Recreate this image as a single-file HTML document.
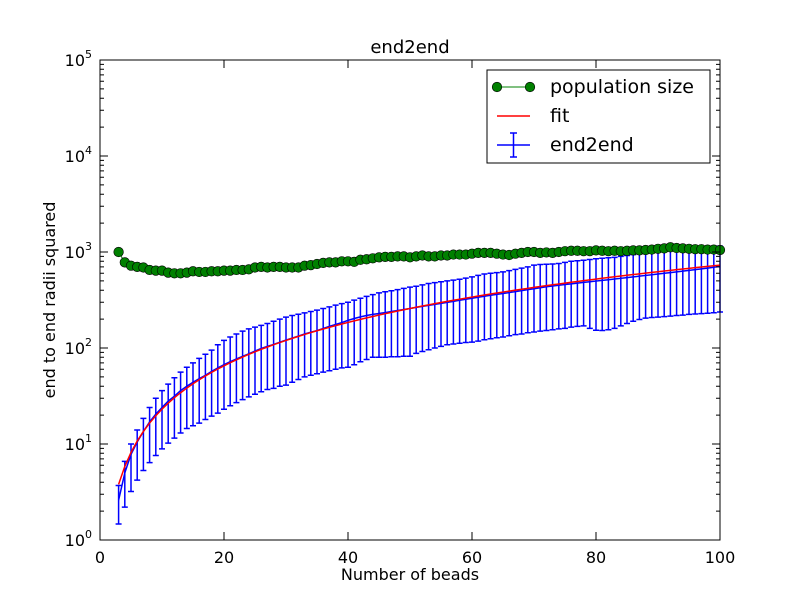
<!DOCTYPE html>
<html><head><meta charset="utf-8"><style>
body{margin:0;background:#fff;}
svg{display:block;font-family:"DejaVu Sans","Liberation Sans",sans-serif;}
</style></head><body>
<svg id="chart" width="800" height="600"></svg>
<script>
const xs=[];for(let i=3;i<=100;i++)xs.push(i);
const popSize=[1000,780,720,700,690,650,640,640,610,600,600,610,630,620,620,630,630,640,640,650,650,660,690,700,690,700,700,690,690,690,720,730,750,770,780,780,800,800,790,830,840,860,880,890,890,900,900,880,900,920,900,900,920,920,940,940,940,960,980,980,980,960,940,930,960,980,1000,1000,980,990,980,1000,1020,1030,1030,1020,1020,1040,1030,1020,1030,1020,1030,1040,1040,1050,1060,1080,1090,1120,1100,1090,1080,1070,1070,1060,1060,1050];
const meanVals=[2.6,5.0,7.8,10.5,13.5,17,20.5,24,28,31.5,36,40,44,48,52,57,62,67,72,77,82,87,93,99,104,109,115,121,127,133,140,146,152,160,168,176,184,194,203,211,218,224,229,234,240,246,252,258,265,271,278,285,292,299,306,314,322,330,338,346,354,362,370,378,387,396,405,414,424,434,442,450,458,466,474,482,490,498,506,514,523,532,541,550,560,570,580,590,600,610,620,632,644,656,668,680,694,708,722];
const errLow=[1.47,2.2,3.2,4.2,5.3,6.4,7.6,8.9,10.2,11.5,13,14.5,15.5,16.5,18,19.5,21,23,25,27,29,31,33,35,37,38,40,41,44,47,50,52,54,56,58,60,62,63,67,72,76,80,80,80,81,81,82,82,88,92,96,100,104,108,110,112,114,115,118,122,125,128,130,134,138,140,144,147,150,152,155,158,160,165,168,170,160,153,152,155,160,170,180,190,198,205,208,210,212,215,218,220,224,226,228,230,233,237];
const errHigh=[3.7,6.6,10,14,18.5,24,30,36,42,49,56,63,70,78,86,95,108,120,130,140,150,158,165,172,180,190,200,210,218,225,232,240,248,258,268,280,290,300,315,330,345,360,375,385,395,405,418,430,440,455,470,480,490,500,510,520,535,550,570,590,600,610,620,640,660,680,700,730,740,745,750,760,780,800,810,820,835,850,860,870,880,900,920,940,960,990,1020,1050,1070,1090,1100,1110,1120,1130,1140,1145,1150,1150];
const fitA=[0.73];const fitB=[1.5];
const xTicks=[0,20,40,60,80,100];
const yDecades=[0,1,2,3,4,5];

const NS="http://www.w3.org/2000/svg";
const svg=document.getElementById('chart');
const L=100,R=720,T=60,B=540;
const sx=v=>L+(v-0)/(100-0)*(R-L);
const sy=v=>B-(Math.log10(v)-0)/5*(B-T);
function mk(tag,attrs,parent){const e=document.createElementNS(NS,tag);for(const k in attrs)e.setAttribute(k,attrs[k]);(parent||svg).appendChild(e);return e;}

const eg=mk('g',{});


xs.forEach((x,i)=>{
  const px=sx(x),y1=sy(errLow[i]),y2=sy(errHigh[i]);
  const l=mk('path',{d:`M${px},${y1}V${y2}M${px-3},${y1}H${px+3}M${px-3},${y2}H${px+3}`,stroke:'#0000ff','stroke-width':1.5,fill:'none'},eg);
  
  
});
const mp=mk('polyline',{points:xs.map((x,i)=>sx(x)+','+sy(meanVals[i])).join(' '),stroke:'#0000ff','stroke-width':1.5,fill:'none'});


const fp=mk('polyline',{points:xs.map(x=>sx(x)+','+sy(fitA[0]*Math.pow(x,fitB[0]))).join(' '),stroke:'#ff0000','stroke-width':1.5,fill:'none'});


const pp=mk('polyline',{points:xs.map((x,i)=>sx(x)+','+sy(popSize[i])).join(' '),stroke:'#008000','stroke-width':1,fill:'none'});


xs.forEach((x,i)=>{
  const c=mk('circle',{cx:sx(x),cy:sy(popSize[i]),r:4.8,fill:'#008000',stroke:'#000','stroke-width':0.6});
  
  
});
const fr=mk('rect',{x:L,y:T,width:R-L,height:B-T,fill:'none',stroke:'#000','stroke-width':1});


xTicks.forEach(t=>{
  const px=sx(t);
  mk('path',{d:`M${px},${B}v-8M${px},${T}v8`,stroke:'#000'});
  const tx=mk('text',{x:px,y:B+23,'font-size':16,'text-anchor':'middle'});tx.textContent=t;
  
  
});
yDecades.forEach(d=>{
  const py=sy(Math.pow(10,d));
  mk('path',{d:`M${L},${py}h8M${R},${py}h-8`,stroke:'#000'});
  const tx=mk('text',{x:L-8,y:py+6,'font-size':16,'text-anchor':'end'});
  
  
  tx.innerHTML=`10<tspan dy="-8" font-size="11">${d}</tspan>`;
  if(d<5)for(let m=2;m<10;m++){const my=sy(m*Math.pow(10,d));mk('path',{d:`M${L},${my}h4M${R},${my}h-4`,stroke:'#000'});}
});
let t=mk('text',{x:410,y:53,'font-size':18,'text-anchor':'middle'});t.textContent='end2end';

t=mk('text',{x:410,y:580,'font-size':16,'text-anchor':'middle'});t.textContent='Number of beads';

t=mk('text',{x:0,y:0,'font-size':16,'text-anchor':'middle',transform:'translate(55,300) rotate(-90)'});t.textContent='end to end radii squared';

const lg=mk('g',{});

mk('rect',{x:487,y:70,width:223,height:93,fill:'#fff',stroke:'#000'},lg);
mk('line',{x1:497,y1:87,x2:530,y2:87,stroke:'#008000'},lg);
mk('circle',{cx:497,cy:87,r:4.8,fill:'#008000',stroke:'#000','stroke-width':0.6},lg);
mk('circle',{cx:530,cy:87,r:4.8,fill:'#008000',stroke:'#000','stroke-width':0.6},lg);
mk('line',{x1:497,y1:116,x2:530,y2:116,stroke:'#ff0000','stroke-width':1.5},lg);
mk('path',{d:'M497,145H530M513.5,133V157M510,133h7M510,157h7',stroke:'#0000ff','stroke-width':1.5,fill:'none'},lg);
[['population size',93],['fit',122],['end2end',151]].forEach(([s,y])=>{
  const e=mk('text',{x:550,y:y,'font-size':19},lg);e.textContent=s;
  
});
</script>
</body></html>
